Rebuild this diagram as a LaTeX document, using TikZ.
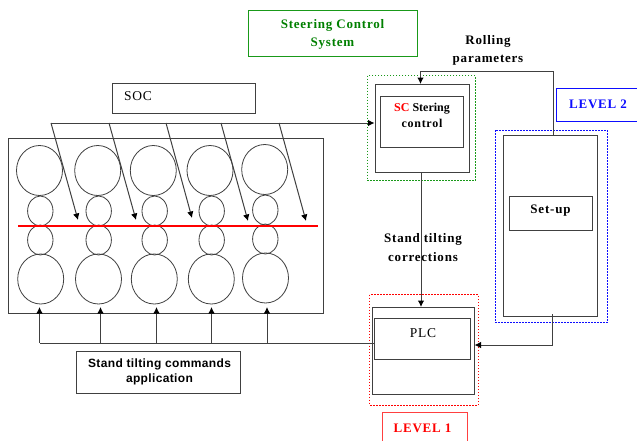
\documentclass[tikz,border=0pt]{standalone}
\usepackage{fontspec}
\setmainfont{Liberation Serif}
\setsansfont{Liberation Sans}
\newfontfamily\wideserif[LetterSpace=6]{Liberation Serif}
\newfontfamily\widesans[LetterSpace=3]{Liberation Sans}
\usetikzlibrary{arrows.meta,calc}
\definecolor{lnk}{gray}{0.25}
\definecolor{grn}{rgb}{0,0.5,0}
\definecolor{grnb}{rgb}{0.1,0.6,0.1}
\definecolor{blu}{rgb}{0.05,0.05,1}
\definecolor{rd}{rgb}{1,0,0}
\tikzset{
  x=1pt,y=-1pt,
  rrect/.style={draw=lnk,line width=1pt},
  dots/.style={dash pattern=on 1.5pt off 1.5pt,line width=0.75pt},
  roll/.style={draw=lnk,line width=0.8pt},
  wire/.style={draw=lnk,line width=1pt},
  arr/.style={wire,-{Latex[length=6.5pt,width=6.5pt,black]}},
  lbl/.style={font=\fontsize{13}{14}\selectfont\wideserif\bfseries,inner sep=0pt,anchor=base},
  plain/.style={font=\fontsize{13.5}{14}\selectfont\wideserif,inner sep=0pt,anchor=base},
  sanslbl/.style={font=\fontsize{12}{13}\selectfont\widesans\bfseries,inner sep=0pt,anchor=base},
}
\newcommand{\rbox}[6][]{\node[rrect,inner sep=0pt,minimum width={(#5)*1pt-(#3)*1pt},minimum height={(#6)*1pt-(#4)*1pt},#1] (#2) at ({((#3)+(#5))/2},{((#4)+(#6))/2}) {};}
\begin{document}
\begin{tikzpicture}
\useasboundingbox (0,0) rectangle (637,440);
\fill[white] (0,0) rectangle (637,440);

% title
\rbox[draw=grnb]{title}{248}{10.5}{417}{56.5}
\node[lbl,text=grn] (titlet) at (332.5,28.3) {Steering Control};
\node[lbl,text=grn] (titleu) at (332.5,46) {System};

% SOC
\rbox{soc}{112.5}{83.5}{255.5}{113}
\node[plain] (soct) at (138,100.7) {SOC};

% stands box
\rbox{plant}{8.5}{138.5}{323}{313}

% rollers
\foreach \n/\xa/\xb/\xc/\xd/\dy in {a/39.5/40.3/40.3/40.7/0,b/97.7/98.7/98.7/98.5/0,c/153.3/154.7/154.7/154.3/0,d/210/211.7/211.7/211.3/0,e/264.7/265.3/265.3/265.5/-1}{
  \draw[roll] (\xa,170.5+\dy) ellipse [x radius=23,y radius=25];
  \draw[roll] (\xb,211+\dy) ellipse [x radius=12.7,y radius=15];
  \draw[roll] (\xc,240+\dy) ellipse [x radius=12.7,y radius=15];
  \draw[roll] (\xd,279+\dy) ellipse [x radius=23,y radius=25];
}
% strip
\coordinate (stripa) at (18,226);
\coordinate (stripb) at (318,226);
\draw[rd,line width=1.3pt] (stripa) -- (stripb);

% steering control
\draw[dots,color=grnb] (367,75.5) rectangle (475,180.5);
\rbox{scout}{375}{84}{469}{172}
\rbox{scin}{380}{96.5}{463}{147}
\node[font=\fontsize{12}{13}\selectfont\bfseries,inner sep=0pt,anchor=base] (sct) at (422,111.7) {{\color{rd}SC} Stering};
\node[font=\fontsize{12}{13}\selectfont\wideserif\bfseries,inner sep=0pt,anchor=base] (scu) at (422,127.7) {control};

% set-up
\draw[dots,color=blu] (495.5,130) rectangle (607,322.5);
\rbox{setup}{503.5}{135.5}{597}{316.5}
\rbox{setin}{509.5}{196.5}{592}{230}
\node[lbl] (sett) at (550.5,213) {Set-up};

% PLC
\draw[dots,color=rd] (369.5,294.5) rectangle (478,405);
\rbox{plcout}{372.5}{307}{474}{394}
\rbox{plcin}{374.5}{318.5}{470}{359.5}
\node[plain] (plct) at (423,337.7) {PLC};

% levels
\rbox[draw=blu]{lvltwo}{556}{88}{645}{121}
\node[lbl,text=blu] (lvltwot) at (598,108.7) {LEVEL 2};
\rbox[draw=rd!75!white]{lvlone}{382}{412}{467}{450}
\node[lbl,text=rd] (lvlonet) at (422.5,432.3) {LEVEL 1};

% labels
\node[lbl] (rollt) at (488,44.7) {Rolling};
\node[lbl] (paramt) at (488,62) {parameters};
\node[lbl] (tiltt) at (423,242.7) {Stand tilting};
\node[lbl] (corrt) at (423,261.7) {corrections};
\rbox{cmd}{76.5}{351}{240}{393.5}
\node[sanslbl] (cmdt) at (159.5,367.7) {Stand tilting commands};
\node[sanslbl] (cmdu) at (159.5,382.3) {application};

% connectors
\coordinate (rolla) at (553,135.5);
\coordinate (rollb) at (553,71);
\coordinate (rollc) at (420.5,71);
\draw[wire] (rolla) -- (rollb) -- (rollc);
\draw[arr] (rollc) -- (420.5,84);

\draw[arr] (scout.south -| 421,0) -- (421,307);

\coordinate (seta) at (552.5,314);
\coordinate (setb) at (552.5,345);
\draw[wire] (seta) -- (setb);
\draw[arr] (setb) -- (plcout.east |- setb);

% SOC bus
\coordinate (busl) at (51,123);
\draw[arr] (busl) -- (scout.west |- busl);
\foreach \i/\xa/\xb/\yb in {1/51/78/220,2/109/136/220,3/166/192/218,4/221/248/221,5/279/306/221}{
  \coordinate (soca\i) at (\xa,123);
  \coordinate (socb\i) at (\xb,\yb);
  \draw[arr] (soca\i) -- (socb\i);
}

% command bus
\coordinate (cmdr) at (374.5,343);
\coordinate (cmdl) at (39.5,343);
\draw[wire] (cmdr) -- (cmdl);
\foreach \i/\x in {1/39.5,2/100.5,3/156.5,4/211.5,5/267}{
  \coordinate (cmda\i) at (\x,343);
  \coordinate (cmdb\i) at (\x,307);
  \draw[arr] (cmda\i) -- (cmdb\i);
}
\end{tikzpicture}
\end{document}
